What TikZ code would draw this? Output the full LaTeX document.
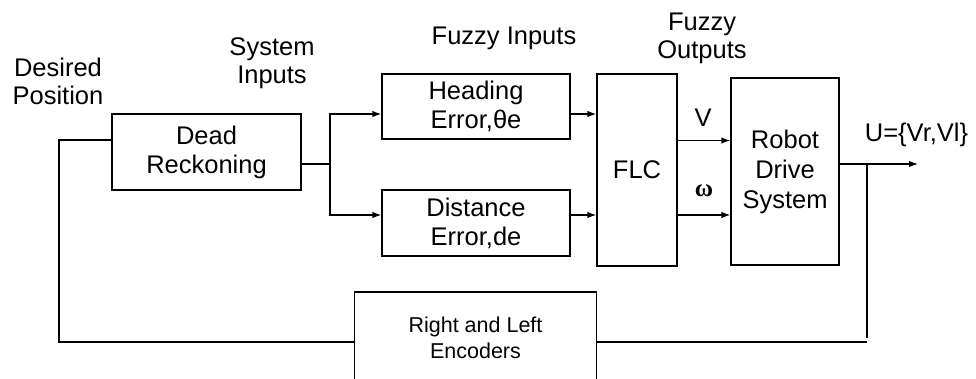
\documentclass[tikz,border=0pt]{standalone}
\usepackage{fontspec}
\setmainfont{Liberation Sans}
\newfontfamily\omegafont{Liberation Serif}
\usetikzlibrary{arrows.meta}
\begin{document}
\begin{tikzpicture}[x=1pt,y=-1pt,
  box/.style={draw, line width=1.3pt, inner sep=0pt, align=center, font=\fontsize{25.5}{29}\selectfont},
  lbl/.style={align=center, inner sep=0pt, font=\fontsize{25.5}{28}\selectfont},
  ln/.style={line width=1.3pt},
  arr/.style={ln, -{Latex[length=9pt,width=6.5pt]}}]
\useasboundingbox[fill=white] (0,0) rectangle (976,379);

% boxes
\node[box, minimum width=189pt, minimum height=76pt] (dr) at (206.5,152) {Dead\\Reckoning};
\node[box, minimum width=188pt, minimum height=65pt] (head) at (476,106.5) {Heading\\Error,θe};
\node[box, minimum width=188pt, minimum height=66pt] (dist) at (476,223) {Distance\\Error,de};
\node[box, minimum width=80pt, minimum height=192pt] (flc) at (637,170) {FLC};
\node[box, minimum width=108pt, minimum height=187pt, font=\fontsize{25.5}{30}\selectfont] (robot) at (785,171.5) {Robot\\Drive\\System};
\node[box, minimum width=242pt, minimum height=92pt, font=\fontsize{21.5}{26}\selectfont] (enc) at (475.5,338) {Right and Left\\Encoders};

% labels
\node[lbl] (desired) at (58,81.5) {Desired\\Position};
\node[lbl] (sysin) at (272,63) {System\\Inputs};
\node[lbl] (fuzin) at (504,38.5) {Fuzzy Inputs};
\node[lbl] (fuzout) at (702,38) {Fuzzy\\Outputs};
\node[lbl] (vlbl) at (703,117.5) {V};
\node[inner sep=0pt, font=\omegafont\bfseries\fontsize{25}{28}\selectfont] (wlbl) at (704,191) {ω};
\node[lbl] (ulbl) at (916.5,135) {U=\{Vr,Vl\}};

% coordinates
\coordinate (fbL) at (59,140);
\coordinate (br) at (330,164);
\coordinate (fbR) at (867,164);
\coordinate (uend) at (918,164);

% connectors
\draw[ln] ([yshift=-4pt]enc.west) -| (fbL) -- (fbL -| dr.west);
\draw[ln] ([yshift=-12pt]dr.east) -- (br);
\draw[arr] (br) |- ([yshift=-7.5pt]head.west);
\draw[arr] (br) |- ([yshift=8pt]dist.west);
\draw[arr] ([yshift=-7.5pt]head.east) -- ([yshift=-7.5pt]head.east -| flc.west);
\draw[arr] ([yshift=8pt]dist.east) -- ([yshift=8pt]dist.east -| flc.west);
\draw[arr] ([yshift=31pt]flc.east |- robot.west) -- ([yshift=31pt]robot.west);
\draw[arr] ([yshift=-43.5pt]flc.east |- robot.west) -- ([yshift=-43.5pt]robot.west);
\draw[arr] ([yshift=7.5pt]robot.east) -- (uend);
\draw[ln] (fbR) -- (fbR |- enc.east) ++(0,4) -- ([yshift=-4pt]enc.east);
\end{tikzpicture}
\end{document}
